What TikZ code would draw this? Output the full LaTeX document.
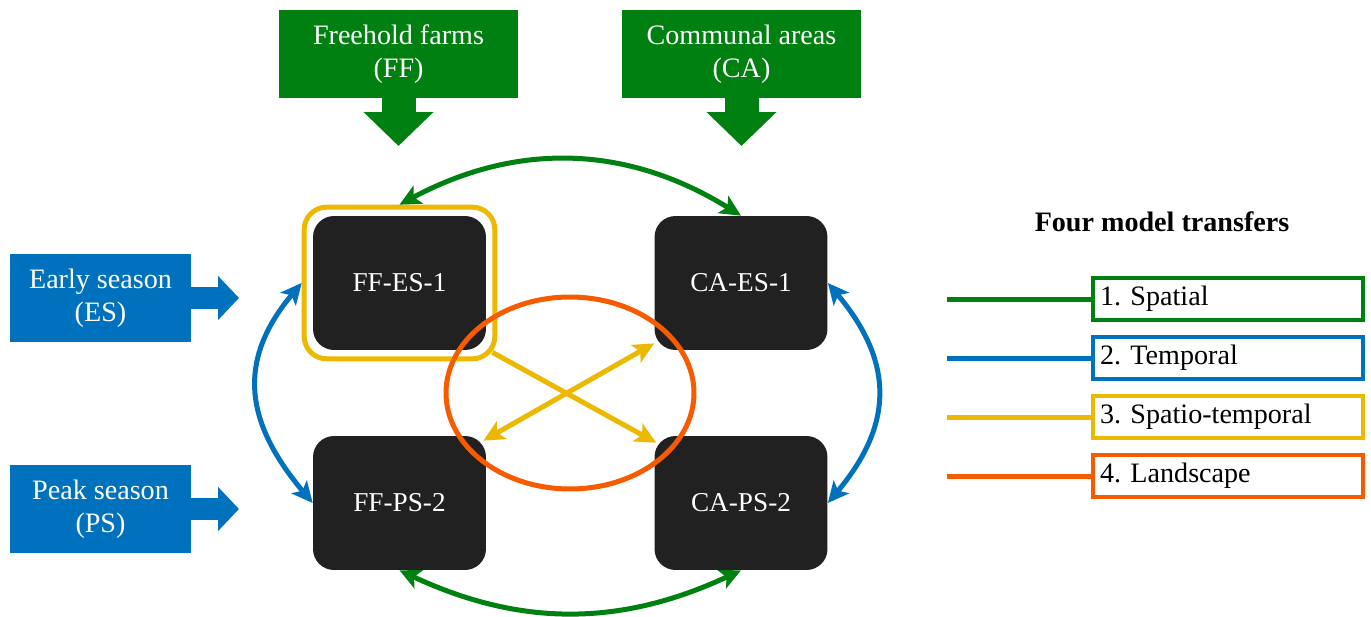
\documentclass[tikz,border=0pt]{standalone}
\usepackage{fontspec}
\setmainfont{Liberation Serif}
\usetikzlibrary{arrows.meta,shapes.geometric,fit,calc}

\definecolor{spatial}{RGB}{0,128,16}
\definecolor{temporal}{RGB}{0,114,189}
\definecolor{spatiotemporal}{RGB}{236,184,0}
\definecolor{landscape}{RGB}{246,91,0}
\definecolor{cellgray}{RGB}{33,33,33}

\begin{document}
\begin{tikzpicture}[
            x=0.02cm, y=0.02cm,
            every node/.style={font=\fontsize{16}{19}\selectfont},
            src/.style={
              fill=spatial, text=white, align=center,
              minimum width=4.78cm, minimum height=1.76cm
            },
            season/.style={
              fill=temporal, text=white, align=center,
              minimum width=3.62cm, minimum height=1.76cm
            },
            cell/.style={
              fill=cellgray, text=white, rounded corners=0.42cm,
              minimum width=3.46cm, minimum height=2.68cm,
              font=\fontsize{15.5}{18}\selectfont
            },
            key/.style={
              line width=0.09cm, text width=5.12cm, align=left,
              minimum height=0.84cm, inner sep=0.14cm
            },
            link/.style={
              line width=0.1cm,
              -{Stealth[length=0.42cm,width=0.4cm,inset=0.1cm]}
            },
            blink/.style={
              line width=0.1cm,
              {Stealth[length=0.42cm,width=0.4cm,inset=0.1cm]}-{Stealth[length=0.42cm,width=0.4cm,inset=0.1cm]}
            }
        ]
    \useasboundingbox (0,0) rectangle (1371,616);

    % land use and season inputs
    \node[src] (ff) at (398.5,562) {Freehold farms\\(FF)};
    \node[src] (ca) at (741.5,562) {Communal areas\\(CA)};
    \node[season] (es) at (100.5,318) {Early season\\(ES)};
    \node[season] (ps) at (100.5,107) {Peak season\\(PS)};

    \coordinate (ffin) at (398.5,470);
    \coordinate (cain) at (741.5,470);
    \coordinate (esin) at (239,318);
    \coordinate (psin) at (239,107);

    \foreach \a/\b in {ff/ffin, ca/cain}
      \draw[spatial, line width=0.68cm, -{Triangle[width=1.36cm,length=0.68cm]}] (\a.south) -- (\b);
    \foreach \a/\b in {es/esin, ps/psin}
      \draw[temporal, line width=0.44cm, -{Triangle[width=0.86cm,length=0.42cm]}] (\a.east) -- (\b);

    % model cells
    \node[cell] (ffes) at (399.5,333) {FF-ES-1};
    \node[cell] (caes) at (741,333) {CA-ES-1};
    \node[cell] (ffps) at (399.5,113) {FF-PS-2};
    \node[cell] (caps) at (741,113) {CA-PS-2};

    \node[draw=spatiotemporal, line width=0.1cm, rounded corners=0.45cm,
          fit=(ffes), inner sep=0.17cm] (ffhl) {};

    \node[ellipse, draw=landscape, line width=0.1cm,
          minimum width=4.96cm, minimum height=3.84cm] (ring) at (570,223) {};

    % corner points of the spatio-temporal pair
    \coordinate (hlcorner) at ($(ffhl.south east)+(-5,9)$);
    \coordinate (capscorner) at ($(caps.north west)+(2,-7)$);
    \coordinate (ffpscorner) at ($(ffps.north east)+(-3,-5)$);
    \coordinate (caescorner) at ($(caes.south west)+(0,7)$);

    % transfers
    \draw[blink, spatial] (ffhl.north) to[bend left=30] (caes.north);
    \draw[blink, spatial] (ffps.south) to[bend right=25] (caps.south);
    \draw[blink, temporal] (ffhl.west) to[out=230, in=130, looseness=1.2] (ffps.west);
    \draw[blink, temporal] (caes.east) to[out=-50, in=50, looseness=1.2] (caps.east);
    \draw[link, spatiotemporal] (hlcorner) -- (capscorner);
    \draw[blink, spatiotemporal] (ffpscorner) -- (caescorner);

    % legend
    \node[font=\fontsize{16}{19}\selectfont\bfseries] (keytitle) at (1162,394) {Four model transfers};
    \foreach \i/\t/\col in {1/Spatial/spatial, 2/Temporal/temporal,
                            3/Spatio-temporal/spatiotemporal, 4/Landscape/landscape} {
      \node[key, draw=\col] (key\i) at (1228,{376-59*\i}) {\i.\ \t};
      \coordinate (keystart\i) at (947,{376-59*\i});
      \draw[\col, line width=0.1cm] (keystart\i) -- (key\i.west);
    }

    \end{tikzpicture}
\end{document}
